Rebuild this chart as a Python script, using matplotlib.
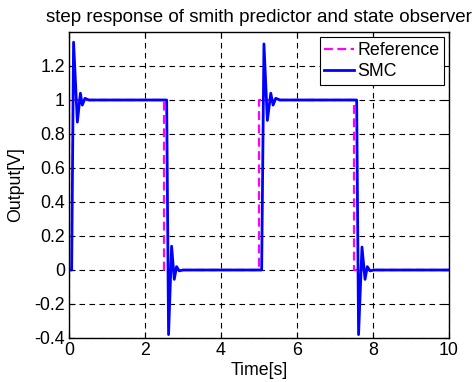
import matplotlib
matplotlib.use("Agg")
import matplotlib.pyplot as plt

# reference square wave
ref_t = [0, 0, 2.5, 2.5, 5.0, 5.0, 7.5, 7.5, 10]
ref_y = [0, 1, 1, 0, 0, 1, 1, 0, 0]

# SMC response, points
smc_t = [0, 0.07, 0.12, 0.22, 0.30, 0.35, 0.42, 0.52,
         2.57, 2.62, 2.70, 2.77, 2.83, 2.90, 3.00,
         5.07, 5.13, 5.22, 5.31, 5.37, 5.44, 5.55,
         7.57, 7.62, 7.71, 7.79, 7.85, 7.92, 8.02, 10]
smc_y = [0, 0, 1.34, 0.87, 1.04, 0.97, 1.01, 1.00,
         1.00, -0.38, 0.14, -0.055, 0.02, -0.005, 0,
         0, 1.33, 0.88, 1.04, 0.97, 1.01, 1.00,
         1.00, -0.38, 0.135, -0.055, 0.02, -0.005, 0, 0]

xticks = [0, 2, 4, 6, 8, 10]
yticks = [-0.4, -0.2, 0, 0.2, 0.4, 0.6, 0.8, 1.0, 1.2]
yticklabels = ["-0.4", "-0.2", "0", "0.2", "0.4", "0.6", "0.8", "1", "1.2"]

plt.rcParams["font.family"] = ["Liberation Sans", "DejaVu Sans"]
plt.rcParams["font.size"] = 12.8

fig = plt.figure(figsize=(4.73, 3.82), dpi=100)
ax = fig.add_axes([69 / 473, 1 - 338 / 382, 380 / 473, 306 / 382])

ax.plot(ref_t, ref_y, "--", color="#ff00ff", lw=1.6, dashes=(4, 2), label="Reference")
ax.plot(smc_t, smc_y, "-", color="#0000ff", lw=2.0, label="SMC")

ax.set_xlim(0, 10)
ax.set_ylim(-0.4, 1.4)
ax.set_xticks(xticks)
ax.set_xticklabels([str(v) for v in xticks])
ax.set_yticks(yticks)
ax.set_yticklabels(yticklabels)
ax.tick_params(direction="in", top=True, right=True, length=4, pad=3)
ax.grid(True, color="black", ls=(0, (5, 4)), lw=0.8)
for s in ax.spines.values():
    s.set_linewidth(1.0)

ax.set_xlabel("Time[s]", labelpad=2)
ax.set_ylabel("Output[V]", labelpad=7)
ax.set_title("step response of smith predictor and state observer", fontsize=13.5, pad=7)

leg = ax.legend(loc="upper right", fancybox=False, framealpha=1, edgecolor="black",
                borderaxespad=0.3, handlelength=1.7, handletextpad=0.15,
                borderpad=0.25, labelspacing=0.25)
leg.get_frame().set_linewidth(0.8)

fig.savefig("out.png", dpi=100)
